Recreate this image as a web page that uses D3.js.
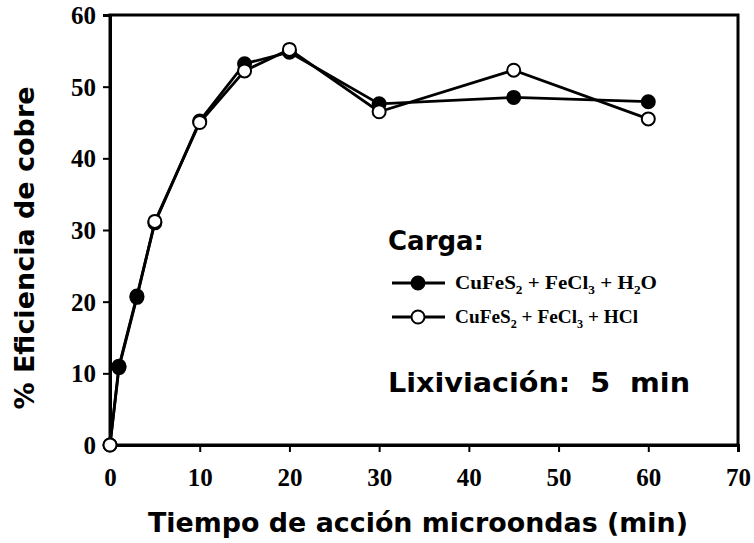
<!DOCTYPE html>
<html>
<head>
<meta charset="utf-8">
<script src="https://cdn.jsdelivr.net/npm/d3@7"></script>
<style>
  body { margin: 0; background: #fff; }
</style>
</head>
<body>
<div id="chart"></div>
<script>
// time of microwave action (min) and copper efficiency (%)
var timesH2O = [0, 1, 3, 5, 10, 15, 20, 30, 45, 60]
var valuesH2O = [0, 11, 20.8, 31, 45.2, 53.2, 54.8, 47.6, 48.5, 47.9]
var timesHCl = [0, 1, 3, 5, 10, 15, 20, 30, 45, 60]
var valuesHCl = [0, 10.8, 20.6, 31.2, 45, 52.2, 55.2, 46.5, 52.3, 45.5]
var xTicks = [0, 10, 20, 30, 40, 50, 60, 70]
var yTicks = [0, 10, 20, 30, 40, 50, 60]

var width = 754, height = 543
var mLeft = 110, mRight = 738, mTop = 15, mBottom = 445

var svg = d3.select("#chart").append("svg")
  .attr("width", width)
  .attr("height", height)

var x = d3.scaleLinear().domain([0, 70]).range([mLeft, mRight])
var y = d3.scaleLinear().domain([0, 60]).range([mBottom, mTop])

// frame
svg.append("rect")
  .attr("x", mLeft).attr("y", mTop)
  .attr("width", mRight - mLeft).attr("height", mBottom - mTop)
  .attr("fill", "none").attr("stroke", "#000").attr("stroke-width", 3)

var xAxis = svg.append("g")
  .attr("transform", "translate(0," + mBottom + ")")
  .call(d3.axisBottom(x).tickValues(xTicks).tickSize(7).tickPadding(16))
var yAxis = svg.append("g")
  .attr("transform", "translate(" + mLeft + ",0)")
  .call(d3.axisLeft(y).tickValues(yTicks).tickSize(7).tickPadding(7))

;[xAxis, yAxis].forEach(function(a) {
  a.select(".domain").attr("stroke-width", 3)
  a.selectAll(".tick line").attr("stroke-width", 2)
  a.selectAll(".tick text")
    .attr("font-family", "Liberation Serif")
    .attr("font-weight", "bold")
    .attr("font-size", 25)
    .attr("fill", "#000")
})
yAxis.selectAll(".tick text").attr("dy", "0.34em")

var line = d3.line()
  .x(function(d) { return x(d.t) })
  .y(function(d) { return y(d.v) })

var h2o = timesH2O.map(function(t, i) { return { t: t, v: valuesH2O[i], s: "h2o" } })
var hcl = timesHCl.map(function(t, i) { return { t: t, v: valuesHCl[i], s: "hcl" } })

svg.append("path").datum(hcl)
  .attr("d", line).attr("fill", "none").attr("stroke", "#000").attr("stroke-width", 2.8)
svg.append("path").datum(h2o)
  .attr("d", line).attr("fill", "none").attr("stroke", "#000").attr("stroke-width", 2.8)

// marker stacking: open circles on top, except the first readings where filled ones cover them
var markers = h2o.concat(hcl).sort(function(a, b) {
  function rank(d) { return d.s == "hcl" ? 1 : (d.t > 0 && d.t < 5 ? 2 : 0) }
  return rank(a) - rank(b)
})
svg.selectAll("circle.mark").data(markers).enter().append("circle")
  .attr("class", "mark")
  .attr("cx", function(d) { return x(d.t) })
  .attr("cy", function(d) { return y(d.v) })
  .attr("r", 6.5)
  .attr("fill", function(d) { return d.s == "h2o" ? "#000" : "#fff" })
  .attr("stroke", "#000").attr("stroke-width", 2)

// legend
var legendItems = [
  { fill: "#000", parts: [["CuFeS", 0], ["2", 1], [" + FeCl", 0], ["3", 1], [" + H", 0], ["2", 1], ["O", 0]] },
  { fill: "#fff", parts: [["CuFeS", 0], ["2", 1], [" + FeCl", 0], ["3", 1], [" + HCl", 0]] }
]
var leg = svg.append("g")
leg.append("text").attr("x", 388).attr("y", 250)
  .attr("font-family", "DejaVu Sans").attr("font-weight", "bold").attr("font-size", 26)
  .text("Carga:")
legendItems.forEach(function(it, i) {
  var ly = 283 + i * 34
  leg.append("line").attr("x1", 392).attr("x2", 445).attr("y1", ly).attr("y2", ly)
    .attr("stroke", "#000").attr("stroke-width", 2.8)
  leg.append("circle").attr("cx", 418).attr("cy", ly).attr("r", 6.5)
    .attr("fill", it.fill).attr("stroke", "#000").attr("stroke-width", 2)
  var t = leg.append("text").attr("x", 455).attr("y", ly + 6)
    .attr("font-family", "Liberation Serif").attr("font-weight", "bold").attr("font-size", 19)
    .attr("textLength", i == 0 ? 202 : 183).attr("lengthAdjust", "spacingAndGlyphs")
  var shift = 0
  it.parts.forEach(function(p) {
    var target = p[1] ? 5 : 0
    t.append("tspan")
      .attr("font-size", p[1] ? 12 : 19)
      .attr("dy", target - shift)
      .text(p[0])
    shift = target
  })
})
leg.append("text").attr("x", 388).attr("y", 392)
  .attr("font-family", "DejaVu Sans").attr("font-weight", "bold").attr("font-size", 27)
  .attr("xml:space", "preserve")
  .attr("textLength", 302).attr("lengthAdjust", "spacingAndGlyphs")
  .text("Lixiviación:  5  min")

// axis titles
svg.append("text")
  .attr("x", 418).attr("y", 532)
  .attr("text-anchor", "middle")
  .attr("font-family", "DejaVu Sans").attr("font-weight", "bold").attr("font-size", 27)
  .attr("textLength", 540).attr("lengthAdjust", "spacingAndGlyphs")
  .text("Tiempo de acción microondas (min)")
svg.append("text")
  .attr("transform", "translate(34,248) rotate(-90)")
  .attr("text-anchor", "middle")
  .attr("font-family", "DejaVu Sans").attr("font-weight", "bold").attr("font-size", 26)
  .attr("textLength", 323).attr("lengthAdjust", "spacingAndGlyphs")
  .text("% Eficiencia de cobre")
</script>
</body>
</html>
